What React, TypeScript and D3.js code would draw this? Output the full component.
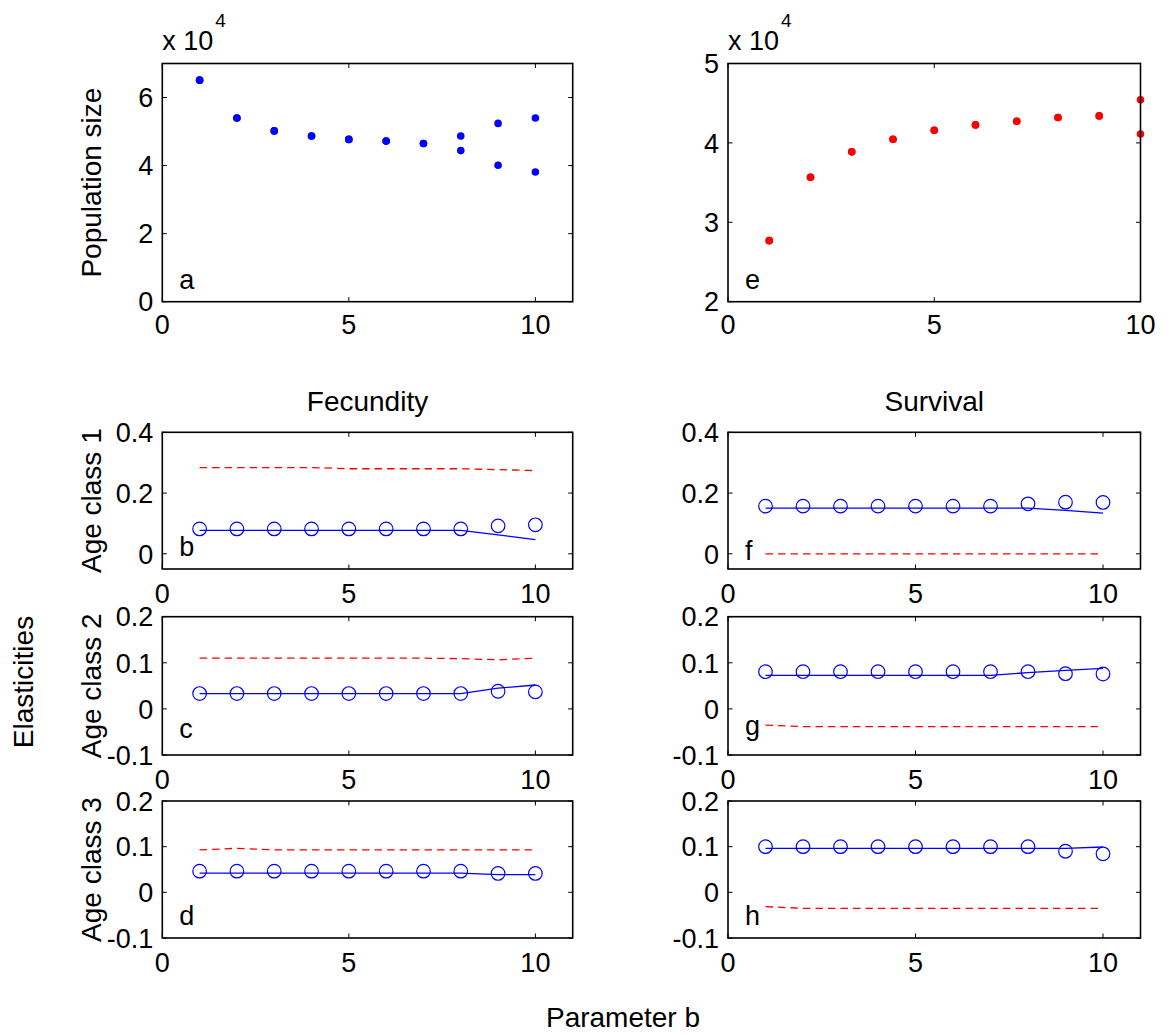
import React from "react";
import * as d3 from "d3";

// Parameter b values along the x axis
const paramB = [1, 2, 3, 4, 5, 6, 7, 8, 9, 10];

// Population size (x 10^4): two branches where the dynamics split
const popFecundityUpper = [6.51, 5.4, 5.02, 4.87, 4.77, 4.72, 4.65, 4.87, 5.24, 5.4];
const popFecundityLower = [6.51, 5.4, 5.02, 4.87, 4.77, 4.72, 4.65, 4.44, 4.01, 3.81];
const popSurvivalUpper = [2.769, 3.567, 3.887, 4.046, 4.16, 4.227, 4.273, 4.319, 4.34, 4.542];
const popSurvivalLower = [2.769, 3.567, 3.887, 4.046, 4.16, 4.227, 4.273, 4.319, 4.34, 4.113];

// Elasticities: solid line, circle markers and dashed line per age class
const fecAge1Line = [0.077, 0.077, 0.077, 0.077, 0.077, 0.077, 0.077, 0.077, 0.062, 0.047];
const fecAge1Circles = [0.082, 0.082, 0.082, 0.082, 0.082, 0.082, 0.082, 0.082, 0.092, 0.0955];
const fecAge1Dashed = [0.284, 0.284, 0.284, 0.284, 0.28, 0.28, 0.28, 0.28, 0.277, 0.274];

const fecAge2Line = [0.0333, 0.0333, 0.0333, 0.0333, 0.0333, 0.0333, 0.0333, 0.0333, 0.045, 0.0518];
const fecAge2Circles = [0.0333, 0.0333, 0.0333, 0.0333, 0.0333, 0.0333, 0.0333, 0.0333, 0.0383, 0.0369];
const fecAge2Dashed = [0.11, 0.11, 0.11, 0.11, 0.11, 0.11, 0.11, 0.109, 0.1065, 0.11];

const fecAge3Line = [0.0421, 0.0421, 0.0421, 0.0421, 0.0421, 0.0421, 0.0421, 0.0421, 0.0386, 0.0386];
const fecAge3Circles = [0.0464, 0.0464, 0.0464, 0.0464, 0.0464, 0.0464, 0.0464, 0.0464, 0.0414, 0.0414];
const fecAge3Dashed = [0.0929, 0.0964, 0.0929, 0.0929, 0.0929, 0.0929, 0.0929, 0.0929, 0.0929, 0.0929];

const survAge1Line = [0.1505, 0.1505, 0.1505, 0.1505, 0.1505, 0.1505, 0.1505, 0.1505, 0.143, 0.134];
const survAge1Circles = [0.157, 0.157, 0.157, 0.157, 0.157, 0.157, 0.157, 0.1645, 0.17, 0.169];
const survAge1Dashed = [0, 0, 0, 0, 0, 0, 0, 0, 0, 0];

const survAge2Line = [0.0729, 0.0729, 0.0729, 0.0729, 0.0729, 0.0729, 0.0729, 0.0786, 0.0836, 0.0879];
const survAge2Circles = [0.0807, 0.0807, 0.0807, 0.0807, 0.0807, 0.0807, 0.0807, 0.0807, 0.0764, 0.0757];
const survAge2Dashed = [-0.035, -0.0386, -0.0386, -0.0386, -0.0386, -0.0386, -0.0386, -0.0386, -0.0386, -0.0386];

const survAge3Line = [0.0964, 0.0964, 0.0964, 0.0964, 0.0964, 0.0964, 0.0964, 0.0964, 0.0964, 0.0993];
const survAge3Circles = [0.1, 0.1, 0.1, 0.1, 0.1, 0.1, 0.1, 0.1, 0.09, 0.0843];
const survAge3Dashed = [-0.0314, -0.035, -0.035, -0.035, -0.035, -0.035, -0.035, -0.035, -0.035, -0.035];

// Tick values
const xTicks = [0, 5, 10];
const popFecTicks = [0, 2, 4, 6];
const popSurvTicks = [2, 3, 4, 5];
const age1Ticks = [0, 0.2, 0.4];
const age23Ticks = [-0.1, 0, 0.1, 0.2];

const FONT = "'Liberation Sans', Arial, Helvetica, sans-serif";
const TICK_FS = 27;
const LABEL_FS = 28;
const BLUE = "#0000ff";
const RED = "#ff0000";

type Box = { x0: number; x1: number; y0: number; y1: number };

const colLeft = { x0: 162.3, x1: 572.7 };
const colRight = { x0: 728, x1: 1140.5 };
const rowTop = { y0: 63.5, y1: 301.7 };
const rowB = { y0: 432.3, y1: 569 };
const rowC = { y0: 616.7, y1: 755 };
const rowD = { y0: 801, y1: 938 };

function Axes({
  box,
  xDomain,
  yDomain,
  yTicks,
  label,
  labelDy = 13,
  xLabelDy = 34,
  children,
}: {
  box: Box;
  xDomain: [number, number];
  yDomain: [number, number];
  yTicks: number[];
  label: string;
  labelDy?: number;
  xLabelDy?: number;
  children: (x: d3.ScaleLinear<number, number>, y: d3.ScaleLinear<number, number>) => React.ReactNode;
}) {
  const x = d3.scaleLinear().domain(xDomain).range([box.x0, box.x1]);
  const y = d3.scaleLinear().domain(yDomain).range([box.y1, box.y0]);
  const tl = 4.5;
  return (
    <g>
      {children(x, y)}
      <rect
        x={box.x0}
        y={box.y0}
        width={box.x1 - box.x0}
        height={box.y1 - box.y0}
        fill="none"
        stroke="#000"
        strokeWidth={1.6}
      />
      {xTicks.map((t) => (
        <g key={"x" + t}>
          <line x1={x(t)} x2={x(t)} y1={box.y1} y2={box.y1 - tl} stroke="#000" strokeWidth={1} />
          <line x1={x(t)} x2={x(t)} y1={box.y0} y2={box.y0 + tl} stroke="#000" strokeWidth={1} />
          <text
            x={x(t)}
            y={box.y1 + xLabelDy}
            textAnchor="middle"
            fontSize={TICK_FS}
            fontFamily={FONT}
          >
            {String(t)}
          </text>
        </g>
      ))}
      {yTicks.map((t) => (
        <g key={"y" + t}>
          <line x1={box.x0} x2={box.x0 + tl} y1={y(t)} y2={y(t)} stroke="#000" strokeWidth={1} />
          <line x1={box.x1} x2={box.x1 - tl} y1={y(t)} y2={y(t)} stroke="#000" strokeWidth={1} />
          <text
            x={box.x0 - 9}
            y={y(t)}
            dy="0.36em"
            textAnchor="end"
            fontSize={TICK_FS}
            fontFamily={FONT}
          >
            {String(t)}
          </text>
        </g>
      ))}
      <text x={box.x0 + 17} y={box.y1 - labelDy} fontSize={TICK_FS} fontFamily={FONT}>
        {label}
      </text>
    </g>
  );
}

function ElasticityPanel({
  box,
  yDomain,
  yTicks,
  label,
  labelDy,
  lineVals,
  circleVals,
  dashedVals,
}: {
  box: Box;
  yDomain: [number, number];
  yTicks: number[];
  label: string;
  labelDy?: number;
  lineVals: number[];
  circleVals: number[];
  dashedVals: number[];
}) {
  return (
    <Axes box={box} xDomain={[0, 11]} yDomain={yDomain} yTicks={yTicks} label={label} labelDy={labelDy}>
      {(x, y) => {
        const gen = d3
          .line<number>()
          .x((_, i) => x(paramB[i]))
          .y((d) => y(d));
        return (
          <g>
            <path d={gen(dashedVals) ?? ""} fill="none" stroke={RED} strokeWidth={1.3} strokeDasharray="7.5,5" />
            <path d={gen(lineVals) ?? ""} fill="none" stroke={BLUE} strokeWidth={1.3} />
            {circleVals.map((v, i) => (
              <circle key={i} cx={x(paramB[i])} cy={y(v)} r={6.8} fill="none" stroke={BLUE} strokeWidth={1.2} />
            ))}
          </g>
        );
      }}
    </Axes>
  );
}

function PopulationPanel({
  box,
  xDomain,
  yDomain,
  yTicks,
  label,
  upper,
  lower,
  color,
}: {
  box: Box;
  xDomain: [number, number];
  yDomain: [number, number];
  yTicks: number[];
  label: string;
  upper: number[];
  lower: number[];
  color: string;
}) {
  return (
    <g>
      <Axes box={box} xDomain={xDomain} yDomain={yDomain} yTicks={yTicks} label={label} xLabelDy={32}>
        {(x, y) => (
          <g>
            {upper.map((v, i) => (
              <circle key={"u" + i} cx={x(paramB[i])} cy={y(v)} r={3.8} fill={color} />
            ))}
            {lower.map((v, i) => (
              <circle key={"l" + i} cx={x(paramB[i])} cy={y(v)} r={3.8} fill={color} />
            ))}
          </g>
        )}
      </Axes>
      <text x={box.x0} y={50} fontSize={TICK_FS} fontFamily={FONT}>
        x 10
        <tspan dx={2} dy={-23} fontSize={19}>
          4
        </tspan>
      </text>
    </g>
  );
}

function RotLabel({ x, y, text }: { x: number; y: number; text: string }) {
  return (
    <text
      transform={`translate(${x},${y}) rotate(-90)`}
      textAnchor="middle"
      fontSize={LABEL_FS}
      fontFamily={FONT}
    >
      {text}
    </text>
  );
}

export default function App() {
  const L = colLeft;
  const R = colRight;
  return (
    <svg
      width={1168}
      height={1035}
      style={{ position: "absolute", left: 0, top: 0, background: "#fff" }}
    >
      <rect width={1168} height={1035} fill="#fff" />
      <PopulationPanel
        box={{ ...L, ...rowTop }}
        xDomain={[0, 11]}
        yDomain={[0, 7]}
        yTicks={popFecTicks}
        label="a"
        upper={popFecundityUpper}
        lower={popFecundityLower}
        color={BLUE}
      />
      <PopulationPanel
        box={{ ...R, ...rowTop }}
        xDomain={[0, 10]}
        yDomain={[2, 5]}
        yTicks={popSurvTicks}
        label="e"
        upper={popSurvivalUpper}
        lower={popSurvivalLower}
        color={RED}
      />

      <ElasticityPanel box={{ ...L, ...rowB }} yDomain={[-0.05, 0.4]} yTicks={age1Ticks} label="b"
        lineVals={fecAge1Line} circleVals={fecAge1Circles} dashedVals={fecAge1Dashed} />
      <ElasticityPanel box={{ ...L, ...rowC }} yDomain={[-0.1, 0.2]} yTicks={age23Ticks} label="c" labelDy={17}
        lineVals={fecAge2Line} circleVals={fecAge2Circles} dashedVals={fecAge2Dashed} />
      <ElasticityPanel box={{ ...L, ...rowD }} yDomain={[-0.1, 0.2]} yTicks={age23Ticks} label="d"
        lineVals={fecAge3Line} circleVals={fecAge3Circles} dashedVals={fecAge3Dashed} />

      <ElasticityPanel box={{ ...R, ...rowB }} yDomain={[-0.05, 0.4]} yTicks={age1Ticks} label="f" labelDy={9}
        lineVals={survAge1Line} circleVals={survAge1Circles} dashedVals={survAge1Dashed} />
      <ElasticityPanel box={{ ...R, ...rowC }} yDomain={[-0.1, 0.2]} yTicks={age23Ticks} label="g" labelDy={20}
        lineVals={survAge2Line} circleVals={survAge2Circles} dashedVals={survAge2Dashed} />
      <ElasticityPanel box={{ ...R, ...rowD }} yDomain={[-0.1, 0.2]} yTicks={age23Ticks} label="h"
        lineVals={survAge3Line} circleVals={survAge3Circles} dashedVals={survAge3Dashed} />

      <RotLabel x={101} y={(rowTop.y0 + rowTop.y1) / 2} text="Population size" />
      <RotLabel x={101} y={(rowB.y0 + rowB.y1) / 2} text="Age class 1" />
      <RotLabel x={101} y={(rowC.y0 + rowC.y1) / 2} text="Age class 2" />
      <RotLabel x={101} y={(rowD.y0 + rowD.y1) / 2} text="Age class 3" />
      <RotLabel x={33} y={682} text="Elasticities" />

      <text x={(L.x0 + L.x1) / 2} y={411} textAnchor="middle" fontSize={LABEL_FS} fontFamily={FONT}>
        Fecundity
      </text>
      <text x={(R.x0 + R.x1) / 2} y={411} textAnchor="middle" fontSize={LABEL_FS} fontFamily={FONT}>
        Survival
      </text>
      <text x={623} y={1027} textAnchor="middle" fontSize={LABEL_FS} fontFamily={FONT}>
        Parameter b
      </text>
    </svg>
  );
}
